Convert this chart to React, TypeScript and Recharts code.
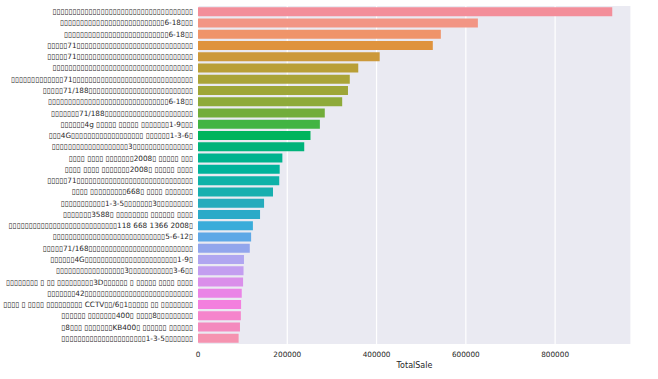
import { Bar, BarChart, CartesianGrid, Cell, XAxis, YAxis } from "recharts";

// labels came out as missing-glyph boxes in the source chart, kept as boxes
const PRODUCTS = [
  "▯▯▯▯▯▯▯▯▯▯▯▯▯▯▯▯▯▯▯▯▯▯▯▯▯▯▯▯▯▯▯▯▯▯▯",
  "▯▯▯▯▯▯▯▯▯▯▯▯▯▯▯▯▯▯▯▯▯▯▯▯▯▯6-18▯▯▯",
  "▯▯▯▯▯▯▯▯▯▯▯▯▯▯▯▯▯▯▯▯▯▯▯▯▯▯6-18▯▯",
  "▯▯▯▯▯71▯▯▯▯▯▯▯▯▯▯▯▯▯▯▯▯▯▯▯▯▯▯▯▯▯▯▯▯▯",
  "▯▯▯▯▯71▯▯▯▯▯▯▯▯▯▯▯▯▯▯▯▯▯▯▯▯▯▯▯▯▯▯▯▯▯",
  "▯▯▯▯▯▯▯▯▯▯▯▯▯▯▯▯▯▯▯▯▯▯▯▯▯▯▯▯▯▯▯▯▯▯▯",
  "▯▯▯▯▯▯▯▯▯▯▯▯▯71▯▯▯▯▯▯▯▯▯▯▯▯▯▯▯▯▯▯▯▯▯▯▯▯▯▯▯▯▯▯",
  "▯▯▯▯▯71/188▯▯▯▯▯▯▯▯▯▯▯▯▯▯▯▯▯▯▯▯▯▯▯▯▯▯",
  "▯▯▯▯▯▯▯▯▯▯▯▯▯▯▯▯▯▯▯▯▯▯▯▯▯▯▯▯▯▯6-18▯▯",
  "▯▯▯▯▯▯▯71/188▯▯▯▯▯▯▯▯▯▯▯▯▯▯▯▯▯▯▯▯▯▯",
  "▯▯▯▯▯▯4g ▯▯▯▯▯ ▯▯▯▯▯ ▯▯▯▯▯▯▯1-9▯▯▯",
  "▯▯▯4G▯▯▯▯▯▯▯▯▯▯▯▯▯▯▯▯▯▯ ▯▯▯▯▯▯1-3-6▯",
  "▯▯▯▯▯▯▯▯▯▯▯▯▯▯▯▯▯▯▯3▯▯▯▯▯▯▯▯▯▯▯▯▯▯▯",
  "▯▯▯▯ ▯▯▯▯ ▯▯▯▯▯▯▯2008▯ ▯▯▯▯▯ ▯▯▯",
  "▯▯▯▯ ▯▯▯▯ ▯▯▯▯▯▯▯2008▯ ▯▯▯▯▯ ▯▯▯▯",
  "▯▯▯▯▯71▯▯▯▯▯▯▯▯▯▯▯▯▯▯▯▯▯▯▯▯▯▯▯▯▯▯▯▯▯",
  "▯▯▯▯ ▯▯▯▯▯▯▯▯▯668▯ ▯▯▯▯ ▯▯▯▯▯▯▯",
  "▯▯▯▯▯▯▯▯▯▯▯1-3-5▯▯▯▯▯▯▯3▯▯▯▯▯▯▯▯▯",
  "▯▯▯▯▯▯▯3588▯ ▯▯▯▯▯▯▯▯ ▯▯▯▯▯▯ ▯▯▯▯",
  "▯▯▯▯▯▯▯▯▯▯▯▯▯▯▯▯▯▯▯▯▯▯▯▯▯▯▯118 668 1366 2008▯",
  "▯▯▯▯▯▯▯▯▯▯▯▯▯▯▯▯▯▯▯▯▯▯▯▯▯▯▯▯5-6-12▯",
  "▯▯▯▯▯71/168▯▯▯▯▯▯▯▯▯▯▯▯▯▯▯▯▯▯▯▯▯▯▯▯▯▯",
  "▯▯▯▯▯▯4G▯▯▯▯▯▯▯▯▯▯▯▯▯▯▯▯▯▯▯▯▯▯▯1-9▯",
  "▯▯▯▯▯▯▯▯▯▯▯▯▯▯▯▯▯3▯▯▯▯▯▯▯▯▯▯▯3-6▯▯",
  "▯▯▯▯▯▯▯▯ ▯ ▯▯ ▯▯▯▯▯▯▯▯▯3D▯▯▯▯▯▯ ▯ ▯▯▯▯▯ ▯▯▯▯ ▯▯▯▯",
  "▯▯▯▯▯▯▯42▯▯▯▯▯▯▯▯▯▯▯▯▯▯▯▯▯▯▯▯▯▯▯▯▯▯▯",
  "▯▯▯▯ ▯ ▯▯▯▯ ▯▯▯▯▯▯▯▯▯ CCTV▯▯/6▯1▯▯▯▯▯ ▯▯ ▯▯▯▯▯▯▯▯",
  "▯▯▯▯▯▯ ▯▯▯▯▯▯▯400▯ ▯▯▯▯8▯▯▯▯▯▯▯▯▯",
  "▯8▯▯▯ ▯▯▯▯▯▯▯KB400▯ ▯▯▯▯▯▯ ▯▯▯▯▯▯",
  "▯▯▯▯▯▯▯▯▯▯▯▯▯▯▯▯▯▯▯▯▯1-3-5▯▯▯▯▯▯▯",
];

const TOTAL_SALE = [
  928000, 627000, 544000, 526000, 407000, 359000, 340000, 336000, 323000, 284000,
  273000, 252000, 238000, 189000, 183000, 182000, 168000, 148000, 139000, 123000,
  119000, 116000, 103000, 102000, 101000, 98000, 96500, 96000, 94000, 91000,
];

const SALE_TICKS = [0, 200000, 400000, 600000, 800000];

const BAR_COLORS = [
  "#f38e9a", "#f29584", "#ef946a", "#df933d", "#cc993b", "#b99f37", "#aaa438", "#9ea638",
  "#8eaa3a", "#72ad3a", "#42b443", "#00b45d", "#00b37a", "#00b38e", "#00b39b", "#0eb2a8",
  "#17afaf", "#26abbc", "#2aaac8", "#3aacda", "#5ea8e6", "#92a6ec", "#b0a6f0", "#c39ef0",
  "#da8fea", "#ea84e6", "#f37fde", "#f585cc", "#f48abe", "#f593b0",
];

const data = PRODUCTS.map((name, i) => ({ name, sale: TOTAL_SALE[i] }));

const FONT = "'DejaVu Sans', sans-serif";

// single-line label, no word wrapping
function ProductTick({ x, y, payload }: any) {
  return (
    <text x={x} y={y} textAnchor="end" dominantBaseline="central" fontFamily={FONT} fontSize={7.3} fill="#262626">
      {payload.value}
    </text>
  );
}

export default function App() {
  return (
    <div style={{ position: "absolute", left: 0, top: 0, background: "#fff" }}>
      <BarChart
        width={658}
        height={379}
        data={data}
        layout="vertical"
        barCategoryGap="10%"
        margin={{ top: 6, right: 27, left: 0, bottom: 0 }}
      >
        <CartesianGrid horizontal={false} stroke="#ffffff" strokeWidth={1.2} fill="#eaeaf2" />
        <XAxis
          type="number"
          domain={[0, 970000]}
          ticks={SALE_TICKS}
          height={35}
          tickLine={false}
          axisLine={false}
          tickMargin={2}
          tick={{ fontSize: 7.3, fill: "#262626", fontFamily: FONT }}
          label={{ value: "TotalSale", position: "insideBottom", offset: 11, fontSize: 8, fill: "#262626", fontFamily: FONT }}
        />
        <YAxis
          type="category"
          dataKey="name"
          width={198}
          tickLine={false}
          axisLine={false}
          tickSize={0}
          tickMargin={5}
          interval={0}
          tick={<ProductTick />}
        />
        <Bar dataKey="sale" isAnimationActive={false}>
          {data.map((_, i) => (
            <Cell key={`cell-${i}`} fill={BAR_COLORS[i]} />
          ))}
        </Bar>
      </BarChart>
    </div>
  );
}
